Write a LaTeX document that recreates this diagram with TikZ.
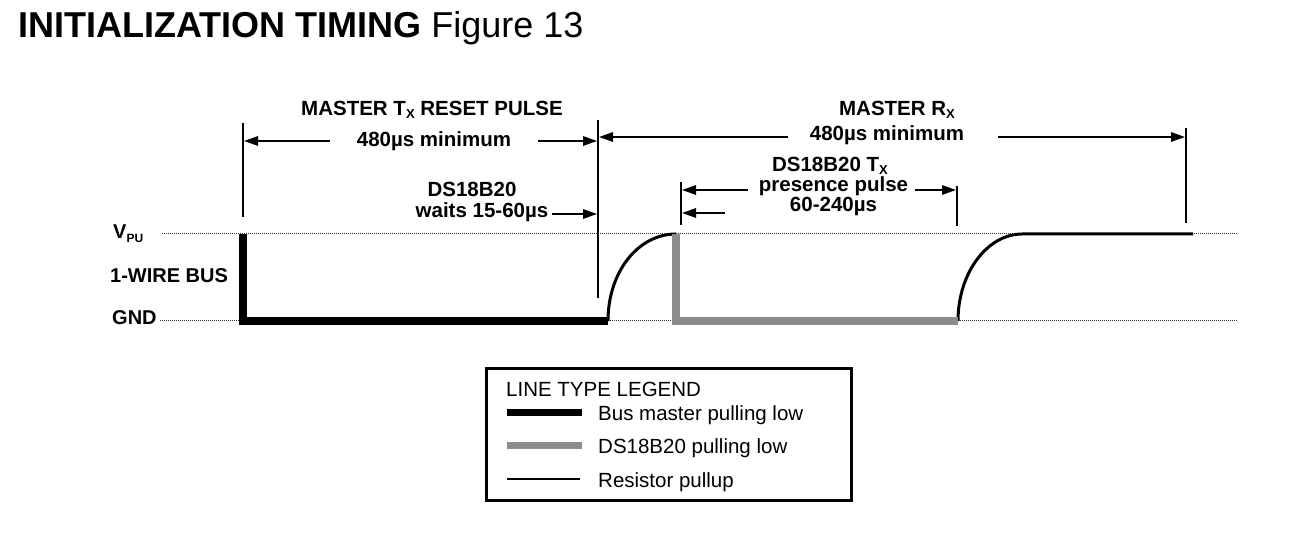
\documentclass[tikz,border=0pt]{standalone}
\usepackage{fontspec}
\setmainfont{Liberation Sans}
\usetikzlibrary{arrows.meta}
\definecolor{slavegray}{HTML}{8C8C8C}
\newcommand\lowsub[1]{\raisebox{-0.25ex}{\fontsize{13}{13}\selectfont #1}}
\newcommand\vsub[1]{\raisebox{-0.3ex}{\fontsize{12}{12}\selectfont #1}}
\begin{document}
\begin{tikzpicture}[x=1pt,y=-1pt,
  lbl/.style={font=\fontsize{20.5}{22}\selectfont\bfseries, inner sep=0pt, anchor=base},
  sidelbl/.style={font=\fontsize{20}{22}\selectfont\bfseries, inner sep=0pt, anchor=base west},
  legtext/.style={font=\fontsize{20.5}{22}\selectfont, inner sep=0pt, anchor=base west},
  tickline/.style={line width=1.5pt},
  dimarrow/.style={line width=1.5pt, -{Triangle[length=14pt,width=9.5pt]}},
  levelline/.style={line width=1pt, dash pattern=on 1pt off 1pt, draw=black!80},
  masterline/.style={line width=8pt, line join=miter},
  slaveline/.style={line width=8pt, line join=miter, draw=slavegray},
  pullline/.style={line width=3pt},
  legbox/.style={draw, line width=3pt, inner sep=0pt, minimum width=365pt, minimum height=132pt}]
\useasboundingbox (0,0) rectangle (1302,534);

% title
\node[anchor=base west, inner sep=0pt] (title) at (18,38)
  {\fontsize{36}{40}\selectfont\textbf{INITIALIZATION TIMING} Figure 13};

% level labels
\node[sidelbl] (vpu) at (113,239) {V\vsub{PU}};
\node[sidelbl] (bus) at (110,283) {1-WIRE BUS};
\node[sidelbl] (gnd) at (112,325) {GND};

% dotted level lines
\coordinate (vpuA) at (162,234);
\coordinate (vpuB) at (1238,234);
\coordinate (gndA) at (160,321);
\coordinate (gndB) at (1238,321);
\draw[levelline] (vpuA) -- (vpuB);
\draw[levelline] (gndA) -- (gndB);

% waveform
\coordinate (m0) at (243,234);
\coordinate (m1) at (243,321);
\coordinate (m2) at (608,321);
\coordinate (p1) at (676,234);
\coordinate (s1) at (676,321);
\coordinate (s2) at (958,321);
\coordinate (p2) at (1022,234);
\coordinate (e) at (1193,234);
\draw[pullline] (m2) .. controls (608,272) and (638,234) .. (p1);
\draw[pullline] (s2) .. controls (958,272) and (988,234) .. (p2) -- (e);
\draw[masterline] (m0) -- (m1) -- (m2);
\draw[slaveline] (p1) -- (s1) -- (s2);

% tick lines
\coordinate (t1a) at (243,123); \coordinate (t1b) at (243,217);
\coordinate (t2a) at (598,120); \coordinate (t2b) at (598,298);
\coordinate (t3a) at (681,182); \coordinate (t3b) at (681,225);
\coordinate (t4a) at (957,186); \coordinate (t4b) at (957,226);
\coordinate (t5a) at (1186,128); \coordinate (t5b) at (1186,223);
\draw[tickline] (t1a) -- (t1b);
\draw[tickline] (t2a) -- (t2b);
\draw[tickline] (t3a) -- (t3b);
\draw[tickline] (t4a) -- (t4b);
\draw[tickline] (t5a) -- (t5b);

% dimension arrows
\coordinate (a1s) at (330,141); \coordinate (a1e) at (244,141);
\coordinate (a2s) at (538,141); \coordinate (a2e) at (597,141);
\coordinate (a3s) at (552,214); \coordinate (a3e) at (597,214);
\coordinate (a4s) at (788,137); \coordinate (a4e) at (599,137);
\coordinate (a5s) at (998,137); \coordinate (a5e) at (1185,137);
\coordinate (a6s) at (748,190); \coordinate (a6e) at (682,190);
\coordinate (a7s) at (915,190); \coordinate (a7e) at (956,190);
\coordinate (a8s) at (725,213); \coordinate (a8e) at (682,213);
\draw[dimarrow] (a1s) -- (a1e);
\draw[dimarrow] (a2s) -- (a2e);
\draw[dimarrow] (a3s) -- (a3e);
\draw[dimarrow] (a4s) -- (a4e);
\draw[dimarrow] (a5s) -- (a5e);
\draw[dimarrow] (a6s) -- (a6e);
\draw[dimarrow] (a7s) -- (a7e);
\draw[dimarrow] (a8s) -- (a8e);

% labels
\node[lbl] (txreset) at (432,116) {MASTER T\lowsub{X} RESET PULSE};
\node[lbl] (min1) at (434,147) {480µs minimum};
\node[lbl] (ds1) at (472,197) {DS18B20};
\node[lbl] (waits) at (482,218) {waits 15-60µs};
\node[lbl] (rx) at (897,116) {MASTER R\lowsub{X}};
\node[lbl] (min2) at (887,141) {480µs minimum};
\node[lbl] (dstx) at (830,172) {DS18B20 T\lowsub{X}};
\node[lbl] (pres) at (833.5,192) {presence pulse};
\node[lbl] (dur) at (833.5,212) {60-240µs};

% legend
\node[legbox] (legend) at (668.5,435) {};
\node[legtext] (legtitle) at (506,397) {LINE TYPE LEGEND};
\coordinate (l1a) at (507,413); \coordinate (l1b) at (582,413);
\coordinate (l2a) at (507,446); \coordinate (l2b) at (582,446);
\coordinate (l3a) at (507,479); \coordinate (l3b) at (580,479);
\draw[line width=7pt] (l1a) -- (l1b);
\draw[line width=7pt, draw=slavegray] (l2a) -- (l2b);
\draw[line width=2.5pt] (l3a) -- (l3b);
\node[legtext] (leg1) at (598,421) {Bus master pulling low};
\node[legtext] (leg2) at (598,454) {DS18B20 pulling low};
\node[legtext] (leg3) at (598,488) {Resistor pullup};
\end{tikzpicture}
\end{document}
